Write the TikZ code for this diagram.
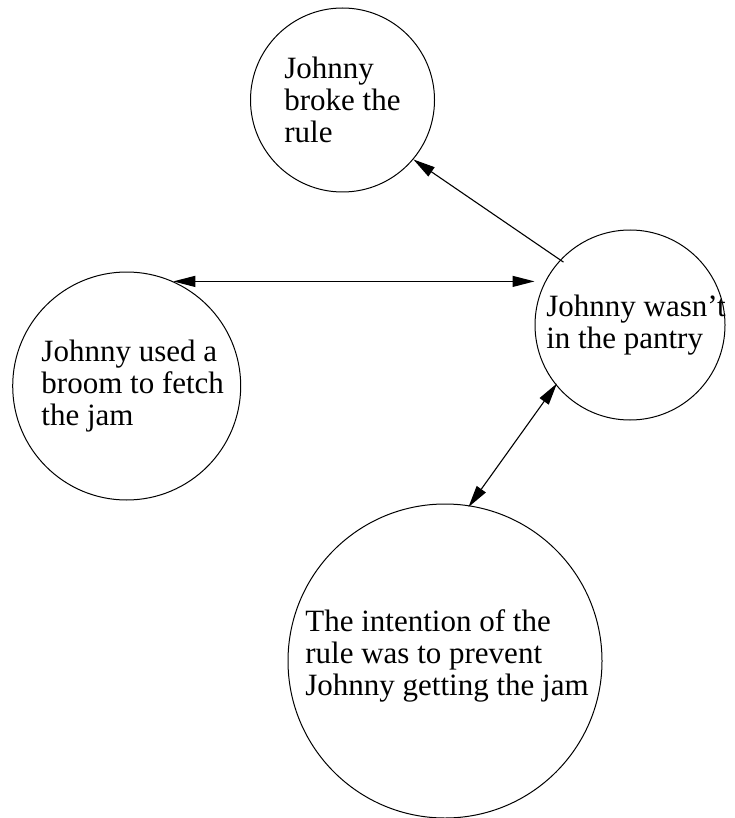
\documentclass[tikz,border=0pt]{standalone}
\usepackage{fontspec}
\setmainfont{Liberation Serif}
\usetikzlibrary{arrows.meta}
\begin{document}
\begin{tikzpicture}[x=1pt,y=-1pt,
  claim/.style={draw, circle, line width=1pt, inner sep=0pt},
  claimtext/.style={align=left, font=\fontsize{31}{32}\selectfont, inner sep=0pt},
  link/.style={line width=1.1pt},
  ]
\useasboundingbox (0,0) rectangle (734,818);

% statements
\node[claim, minimum size=184pt,
      label={[claimtext]center:Johnny\\broke the\\rule}] (broke) at (342.5,100) {};
\node[claim, minimum size=190pt,
      label={[claimtext, xshift=6pt]center:Johnny wasn't\\in the pantry}] (pantry) at (630,325) {};
\node[claim, minimum size=228pt,
      label={[claimtext, xshift=6pt]center:Johnny used a\\broom to fetch\\the jam}] (broom) at (126.7,386) {};
\node[claim, minimum size=314pt,
      label={[claimtext, xshift=2pt, yshift=5pt]center:The intention of the\\rule was to prevent\\Johnny getting the jam}] (intent) at (445,661) {};

% relations
\draw[link, -{Triangle[length=22pt,width=11pt]}, shorten <=-4pt] (pantry.137) -- (broke.-40);
\draw[link, {Triangle[length=22pt,width=11pt]}-{Triangle[length=22pt,width=11pt]}]
  (broom.66) -- (broom.66 -| pantry.west);
\draw[link, {Triangle[length=22pt,width=11pt]}-{Triangle[length=22pt,width=11pt]},
      shorten <=-2pt, shorten >=-2pt] (pantry.219) -- (intent.81);
\end{tikzpicture}
\end{document}
